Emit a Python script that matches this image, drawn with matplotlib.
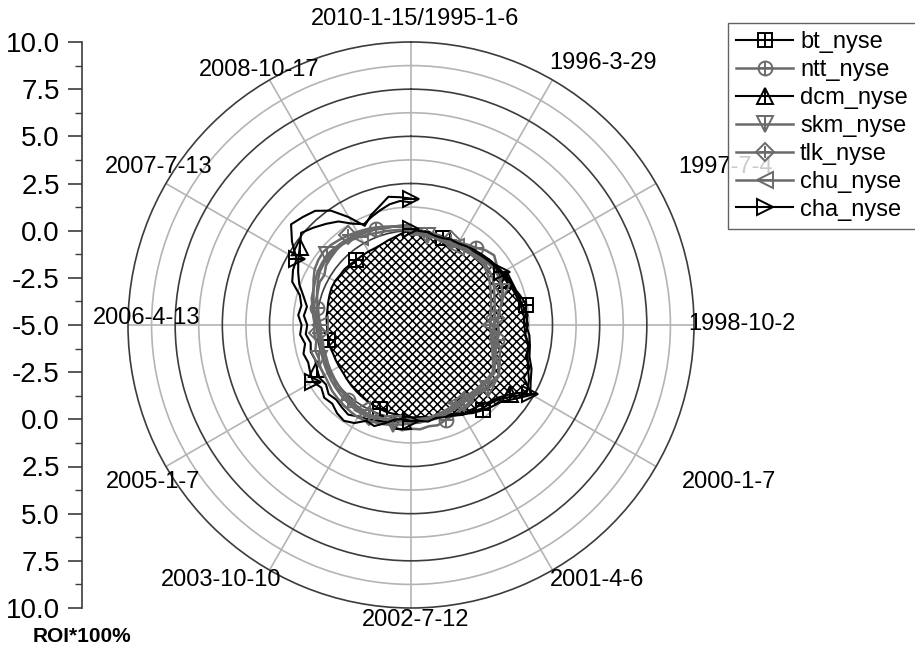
import numpy as np
import matplotlib
matplotlib.use("Agg")
import matplotlib.pyplot as plt
from matplotlib.ticker import FixedLocator, FixedFormatter

# -----------------------------
# Data (ROI*100%)
# one value every 5 degrees, clockwise from 1995-1-6 (top) round to 2010-1-15 (top)
# -----------------------------
bt_nyse = [0.05, 0.0, 0.05, -0.05, -0.1, -0.15, -0.2, -0.1, 0.05, 0.2, 0.4,
           0.5, 0.6, 0.75, 0.8, 1.0, 1.2, 1.1, 1.2, 1.05, 1.4, 1.3, 1.7, 1.6,
           2.4, 1.8, 1.3, 1.1, 0.9, 0.7, 0.45, 0.3, 0.15, 0.05, -0.05, -0.1,
           -0.1, -0.15, -0.2, -0.2, -0.25, -0.3, -0.35, -0.4, -0.45, -0.5,
           -0.55, -0.6, -0.6, -0.6, -0.6, -0.55, -0.55, -0.55, -0.55, -0.5,
           -0.5, -0.45, -0.4, -0.35, -0.35, -0.4, -0.4, -0.45, -0.5, -0.5,
           -0.5, -0.5, -0.45, -0.35, -0.25, -0.1, 0.05]
ntt_nyse = [0.0, 0.1, -0.05, 0.0, -0.1, 0.0, 0.05, 0.2, 0.35, 0.6, 0.75, 0.55,
            0.5, 0.3, 0.2, 0.0, -0.2, -0.35, -0.4, -0.3, -0.35, -0.1, 0.0,
            0.2, 0.35, 0.2, 0.15, 0.0, 0.1, 0.15, 0.2, 0.3, 0.35, 0.5, 0.45,
            0.55, 0.5, 0.6, 0.45, 0.4, 0.3, 0.35, 0.2, 0.25, 0.2, 0.1, 0.15,
            0.0, 0.05, -0.1, -0.05, -0.15, -0.2, -0.1, -0.15, 0.0, 0.05, 0.2,
            0.25, 0.35, 0.3, 0.5, 0.55, 0.6, 0.65, 0.55, 0.5, 0.45, 0.4, 0.3,
            0.3, 0.2, 0.2]
dcm_nyse = [0.0, -0.1, -0.1, -0.2, -0.1, -0.1, 0.0, 0.0, 0.1, 0.2, 0.3, 0.4,
            0.5, 0.6, 0.7, 0.8, 0.9, 1.0, 1.0, 1.1, 1.3, 1.4, 1.6, 1.9, 2.1,
            1.4, 1.0, 0.8, 0.6, 0.5, 0.4, 0.2, 0.1, 0.0, 0.0, -0.1, 0.0, 0.1,
            0.2, 0.3, 0.4, 0.5, 0.6, 0.8, 0.7, 0.6, 0.7, 0.5, 0.6, 0.5, 0.4,
            0.5, 0.4, 0.6, 0.5, 0.7, 0.6, 0.9, 1.3, 1.6, 1.9, 2.2, 2.6, 2.3,
            2.0, 1.7, 1.2, 0.9, 1.1, 1.3, 1.5, 1.6, 1.5]
skm_nyse = [-0.1, -0.15, -0.2, -0.1, -0.2, -0.15, -0.1, -0.05, 0.0, 0.1, 0.2,
            0.3, 0.3, 0.25, 0.15, 0.0, -0.2, -0.4, -0.6, -0.55, -0.5, -0.35,
            -0.2, 0.1, 0.4, 0.35, 0.3, 0.1, 0.0, -0.05, 0.0, 0.05, 0.1, 0.15,
            0.1, 0.2, 0.2, 0.3, 0.35, 0.45, 0.5, 0.6, 0.65, 0.6, 0.55, 0.5,
            0.45, 0.35, 0.3, 0.3, 0.2, 0.25, 0.1, 0.15, 0.1, 0.2, 0.3, 0.45,
            0.5, 0.6, 0.7, 0.75, 0.8, 0.75, 0.7, 0.65, 0.6, 0.5, 0.4, 0.35,
            0.3, 0.3, 0.3]
tlk_nyse = [0.0, -0.05, -0.1, -0.05, -0.1, 0.0, 0.1, 0.05, 0.0, 0.05, 0.1,
            0.05, 0.0, -0.15, -0.3, -0.4, -0.5, -0.55, -0.6, -0.65, -0.6,
            -0.45, -0.3, -0.1, 0.1, 0.05, 0.0, -0.05, -0.1, -0.1, -0.1, -0.05,
            0.0, 0.05, 0.0, 0.1, 0.1, 0.15, 0.1, 0.2, 0.2, 0.3, 0.3, 0.35, 0.3,
            0.25, 0.2, 0.15, 0.1, 0.05, 0.0, -0.05, -0.1, -0.05, 0.0, 0.1, 0.2,
            0.35, 0.5, 0.7, 0.9, 1.0, 1.05, 1.0, 0.9, 0.8, 0.7, 0.6, 0.5, 0.4,
            0.3, 0.25, 0.2]
chu_nyse = [-0.2, -0.2, -0.25, -0.2, -0.3, -0.25, -0.2, -0.15, -0.1, -0.05,
            0.0, -0.1, -0.2, -0.35, -0.5, -0.6, -0.7, -0.75, -0.8, -0.75,
            -0.7, -0.55, -0.4, -0.2, 0.0, -0.05, -0.1, -0.15, -0.2, -0.25,
            -0.2, -0.15, -0.1, -0.05, 0.0, 0.0, 0.0, 0.05, 0.1, 0.15, 0.2,
            0.25, 0.2, 0.15, 0.1, 0.05, 0.0, -0.05, -0.1, -0.15, -0.2, -0.2,
            -0.25, -0.2, -0.2, -0.1, 0.0, 0.15, 0.3, 0.45, 0.6, 0.65, 0.7,
            0.65, 0.6, 0.5, 0.4, 0.3, 0.2, 0.15, 0.1, 0.05, 0.0]
cha_nyse = [0.1, 0.0, 0.0, -0.1, -0.1, 0.0, 0.0, 0.1, 0.2, 0.3, 0.4, 0.5,
            0.6, 0.7, 0.8, 0.9, 1.0, 1.2, 1.1, 1.3, 1.4, 1.5, 1.8, 2.0, 2.3,
            1.6, 1.1, 0.9, 0.8, 0.6, 0.5, 0.3, 0.2, 0.1, 0.2, 0.1, 0.1, 0.0,
            0.1, 0.4, 0.7, 0.6, 1.0, 1.2, 1.1, 0.9, 1.0, 0.8, 1.0, 0.9, 0.8,
            0.9, 0.7, 0.9, 0.8, 1.0, 0.9, 1.1, 1.7, 1.9, 2.0, 2.7, 3.3, 3.1,
            2.9, 2.4, 1.6, 0.8, 1.2, 1.5, 1.9, 1.8, 1.7]

date_labels = ["2010-1-15/1995-1-6", "1996-3-29", "1997-7-4", "1998-10-2",
               "2000-1-7", "2001-4-6", "2002-7-12", "2003-10-10", "2005-1-7",
               "2006-4-13", "2007-7-13", "2008-10-17"]
radial_labels = ["10.0", "7.5", "5.0", "2.5", "0.0", "-2.5", "-5.0", "-2.5",
                 "0.0", "2.5", "5.0", "7.5", "10.0"]

# -----------------------------
# Style
# -----------------------------
plt.rcParams["font.family"] = ["Liberation Sans", "DejaVu Sans"]
plt.rcParams["hatch.linewidth"] = 1.1

W, H = 915, 652
BLACK = "#000000"
GREY = "#6a6a6a"
DARK = "#3c3c3c"
LIGHT = "#b4b4b4"

# pixel centres of the date labels
label_pos = [(415, 19), (603, 63), (726, 167), (742, 324), (729, 482),
             (597, 580), (416, 620), (221, 580), (153, 482), (147, 318),
             (159, 167), (259, 70)]

# name, values, colour, marker, inner mark, size, markevery
series = [
    ("bt_nyse", bt_nyse, BLACK, "s", "+", 9.5, (4, 12)),
    ("ntt_nyse", ntt_nyse, GREY, "o", "+", 10, (8, 12)),
    ("dcm_nyse", dcm_nyse, BLACK, "^", "|", 11, (13, 12)),
    ("skm_nyse", skm_nyse, GREY, "v", "|", 11, (2, 12)),
    ("tlk_nyse", tlk_nyse, GREY, "D", "+", 9, (5, 12)),
    ("chu_nyse", chu_nyse, GREY, "<", "_", 11, (6, 12)),
    ("cha_nyse", cha_nyse, BLACK, ">", "_", 11, (0, 12)),
]

fig = plt.figure(figsize=(W / 100, H / 100), dpi=100)

# -----------------------------
# Polar axes
# -----------------------------
ax = fig.add_axes([128 / W, 44 / H, 566 / W, 566 / H], projection="polar")
ax.set_theta_zero_location("N")
ax.set_theta_direction(-1)
ax.set_ylim(-5, 10)

ax.set_yticks([-2.5, 0, 2.5, 5, 7.5])
ax.yaxis.set_minor_locator(FixedLocator([-3.75, -1.25, 1.25, 3.75, 6.25, 8.75]))
ax.set_yticklabels([])
ax.yaxis.grid(True, which="major", color=DARK, lw=1.2)
ax.yaxis.grid(True, which="minor", color=LIGHT, lw=1.2)
ax.tick_params(axis="y", which="both", length=0)

ax.set_xticks(np.deg2rad(np.arange(0, 360, 30)))
ax.set_xticks(np.deg2rad(np.arange(15, 360, 30)), minor=True)
ax.set_xticklabels([])
ax.xaxis.grid(True, which="major", color=LIGHT, lw=1.2)
ax.tick_params(axis="x", which="major", direction="in", length=8, width=1.2,
               color=DARK)
ax.tick_params(axis="x", which="minor", direction="in", length=5, width=1.0,
               color=DARK)
ax.spines["polar"].set_color(DARK)
ax.spines["polar"].set_linewidth(1.2)

# hatched area under bt_nyse
theta_bt = np.deg2rad(np.linspace(0, 360, len(bt_nyse)))
ax.fill(theta_bt, bt_nyse, facecolor="white", edgecolor=BLACK,
        hatch="xxxx", linewidth=0, zorder=2)

handles = []
for name, vals, col, mk, inner, ms, every in series:
    th = np.deg2rad(np.linspace(0, 360, len(vals)))
    lw = 1.5 if col == BLACK else 1.8
    ln, = ax.plot(th, vals, color=col, lw=lw, marker=mk, ms=ms,
                  mfc="none", mec=col, mew=1.4, markevery=every, zorder=3)
    cr, = ax.plot(th, vals, color=col, ls="none", marker=inner, ms=ms,
                  mew=1.4, markevery=every, zorder=3)
    handles.append((ln, cr))

# -----------------------------
# Date labels
# -----------------------------
for txt, (px, py) in zip(date_labels, label_pos):
    fig.text(px / W, 1 - py / H, txt, fontsize=17, ha="center", va="center")

# -----------------------------
# Left ROI scale
# -----------------------------
ax2 = fig.add_axes([82 / W, 44 / H, 0.0001, 566 / H])
ax2.set_ylim(-15, 15)
ax2.set_xticks([])
for s in ["top", "right", "bottom"]:
    ax2.spines[s].set_visible(False)
ax2.spines["left"].set_color(DARK)
ax2.spines["left"].set_linewidth(1.2)
ax2.yaxis.set_major_locator(FixedLocator(np.arange(-15, 15.1, 2.5)))
ax2.yaxis.set_major_formatter(FixedFormatter(radial_labels[::-1]))
ax2.yaxis.set_minor_locator(FixedLocator(np.arange(-13.75, 15, 2.5)))
ax2.tick_params(axis="y", which="major", direction="out", length=10,
                width=1.2, color=DARK, labelsize=20, pad=6)
ax2.tick_params(axis="y", which="minor", direction="out", length=5,
                width=1.0, color=DARK)

fig.text(82 / W, 1 - 636 / H, "ROI*100%", fontsize=15, fontweight="bold",
         ha="center", va="center")

# -----------------------------
# Legend
# -----------------------------
leg = fig.legend(handles, [s[0] for s in series], loc="upper left",
                 bbox_to_anchor=(728 / W, 1 - 23 / H), fontsize=17,
                 frameon=True, fancybox=False, borderaxespad=0,
                 handlelength=2.4, handletextpad=0.3, labelspacing=0.25,
                 borderpad=0.35)
leg.get_frame().set_edgecolor(DARK)
leg.get_frame().set_linewidth(1.0)

fig.savefig("out.png", dpi=100)
